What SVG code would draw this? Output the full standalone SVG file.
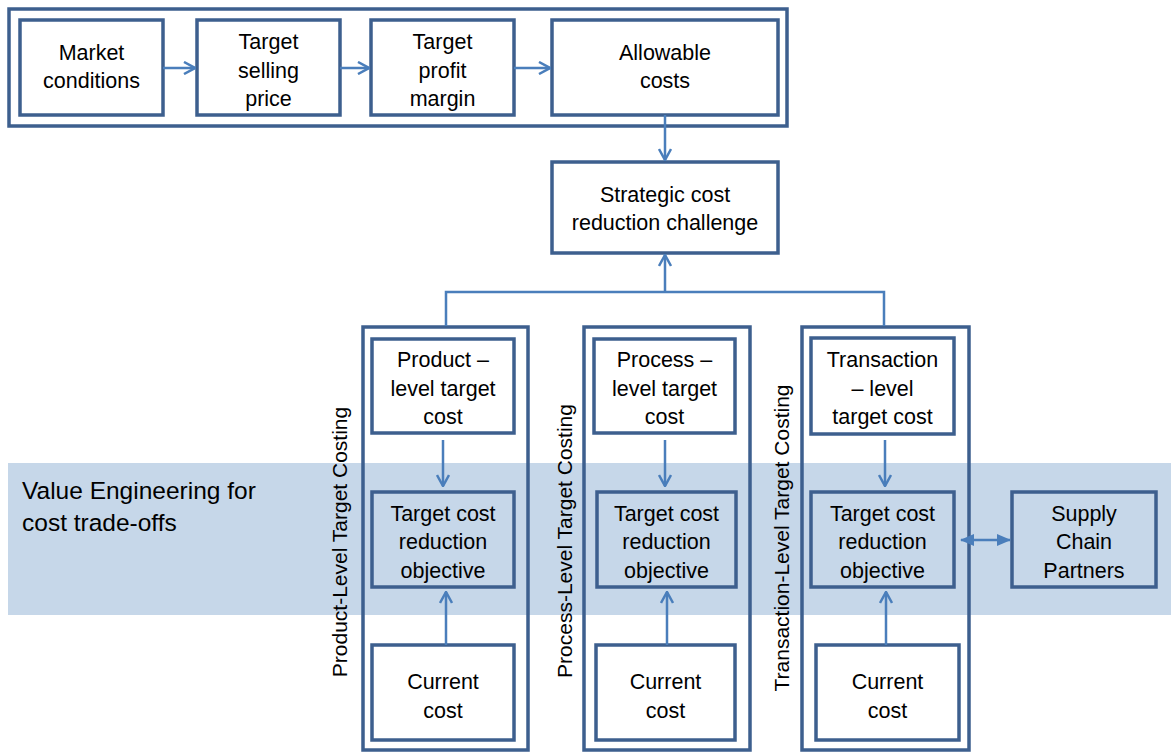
<svg xmlns="http://www.w3.org/2000/svg" width="1171" height="752" viewBox="0 0 1171 752">
  <style>
    .box { fill: #ffffff; stroke: #3d5f8e; stroke-width: 3.5; }
    .clear { fill: none; stroke: #3d5f8e; stroke-width: 3.5; }
    .frame { fill: none; stroke: #3d5f8e; stroke-width: 3.5; }
    .lbl { font-family: "Liberation Sans", Arial, sans-serif; font-size: 21.5px; fill: #000; text-anchor: middle; }
    .side { font-family: "Liberation Sans", Arial, sans-serif; font-size: 21px; fill: #000; text-anchor: middle; }
    .band-text { font-family: "Liberation Sans", Arial, sans-serif; font-size: 24.5px; fill: #000; }
    .link { fill: none; stroke: #4a7ebb; stroke-width: 2.5; }
  </style>
  <defs>
    <marker id="arrow" viewBox="0 0 14 14" refX="13" refY="7" markerWidth="14" markerHeight="14" markerUnits="userSpaceOnUse" orient="auto">
      <polyline points="2,1 13,7 2,13" fill="none" stroke="#4a7ebb" stroke-width="2.5"/>
    </marker>
    <marker id="tri" viewBox="0 0 14 14" refX="13" refY="7" markerWidth="14" markerHeight="14" markerUnits="userSpaceOnUse" orient="auto-start-reverse">
      <polygon points="0,1 14,7 0,13" fill="#4a7ebb"/>
    </marker>
  </defs>

  <rect width="1171" height="752" fill="#ffffff"/>

  <!-- value engineering band -->
  <g id="value-engineering">
    <rect x="8" y="463" width="1163" height="152" fill="#c6d7e9"/>
    <text class="band-text" x="22" y="499">Value Engineering for</text>
    <text class="band-text" x="22" y="531">cost trade-offs</text>
  </g>

  <!-- price chain frame -->
  <g id="pricing-frame">
    <rect class="frame" x="9" y="9" width="778" height="117"/>
  </g>
  <g id="market-conditions">
    <rect class="box" x="20" y="20" width="143" height="95"/>
    <text class="lbl" x="91.5" y="60">Market</text>
    <text class="lbl" x="91.5" y="88">conditions</text>
  </g>
  <g id="target-selling-price">
    <rect class="box" x="197" y="20" width="143" height="95"/>
    <text class="lbl" x="268.5" y="49">Target</text>
    <text class="lbl" x="268.5" y="78">selling</text>
    <text class="lbl" x="268.5" y="106">price</text>
  </g>
  <g id="target-profit-margin">
    <rect class="box" x="371" y="20" width="143" height="95"/>
    <text class="lbl" x="442.5" y="49">Target</text>
    <text class="lbl" x="442.5" y="78">profit</text>
    <text class="lbl" x="442.5" y="106">margin</text>
  </g>
  <g id="allowable-costs">
    <rect class="box" x="552" y="20" width="226" height="95"/>
    <text class="lbl" x="665" y="60">Allowable</text>
    <text class="lbl" x="665" y="88">costs</text>
  </g>
  <g id="strategic-challenge">
    <rect class="box" x="552" y="162" width="226" height="91"/>
    <text class="lbl" x="665" y="202">Strategic cost</text>
    <text class="lbl" x="665" y="230">reduction challenge</text>
  </g>

  <!-- costing columns -->
  <g id="product-level">
    <rect class="frame" x="363" y="327" width="165" height="423"/>
    <text class="side" transform="translate(347,542) rotate(-90)">Product-Level Target Costing</text>
  </g>
  <g id="product-target">
    <rect class="box" x="372" y="339" width="142" height="94"/>
    <text class="lbl" x="443" y="367">Product –</text>
    <text class="lbl" x="443" y="396">level target</text>
    <text class="lbl" x="443" y="424">cost</text>
  </g>
  <g id="product-objective">
    <rect class="clear" x="372" y="492" width="142" height="95"/>
    <text class="lbl" x="443" y="521">Target cost</text>
    <text class="lbl" x="443" y="549">reduction</text>
    <text class="lbl" x="443" y="578">objective</text>
  </g>
  <g id="product-current">
    <rect class="box" x="372" y="645" width="142" height="95"/>
    <text class="lbl" x="443" y="689">Current</text>
    <text class="lbl" x="443" y="718">cost</text>
  </g>

  <g id="process-level">
    <rect class="frame" x="584" y="327" width="166" height="423"/>
    <text class="side" transform="translate(572,541) rotate(-90)">Process-Level Target Costing</text>
  </g>
  <g id="process-target">
    <rect class="box" x="594" y="339" width="141" height="94"/>
    <text class="lbl" x="664.5" y="367">Process –</text>
    <text class="lbl" x="664.5" y="396">level target</text>
    <text class="lbl" x="664.5" y="424">cost</text>
  </g>
  <g id="process-objective">
    <rect class="clear" x="597" y="492" width="139" height="95"/>
    <text class="lbl" x="666.5" y="521">Target cost</text>
    <text class="lbl" x="666.5" y="549">reduction</text>
    <text class="lbl" x="666.5" y="578">objective</text>
  </g>
  <g id="process-current">
    <rect class="box" x="596" y="645" width="139" height="95"/>
    <text class="lbl" x="665.5" y="689">Current</text>
    <text class="lbl" x="665.5" y="718">cost</text>
  </g>

  <g id="transaction-level">
    <rect class="frame" x="802" y="327" width="167" height="423"/>
    <text class="side" transform="translate(789,538) rotate(-90)">Transaction-Level Target Costing</text>
  </g>
  <g id="transaction-target">
    <rect class="box" x="811" y="338" width="143" height="96"/>
    <text class="lbl" x="882.5" y="367">Transaction</text>
    <text class="lbl" x="882.5" y="396">– level</text>
    <text class="lbl" x="882.5" y="424">target cost</text>
  </g>
  <g id="transaction-objective">
    <rect class="clear" x="811" y="492" width="143" height="95"/>
    <text class="lbl" x="882.5" y="521">Target cost</text>
    <text class="lbl" x="882.5" y="549">reduction</text>
    <text class="lbl" x="882.5" y="578">objective</text>
  </g>
  <g id="transaction-current">
    <rect class="box" x="816" y="645" width="143" height="95"/>
    <text class="lbl" x="887.5" y="689">Current</text>
    <text class="lbl" x="887.5" y="718">cost</text>
  </g>

  <g id="supply-chain">
    <rect class="clear" x="1012" y="492" width="144" height="95"/>
    <text class="lbl" x="1084" y="521">Supply</text>
    <text class="lbl" x="1084" y="549">Chain</text>
    <text class="lbl" x="1084" y="578">Partners</text>
  </g>

  <!-- connectors -->
  <g id="connectors">
    <line class="link" x1="163" y1="68" x2="195" y2="68" marker-end="url(#arrow)"/>
    <line class="link" x1="340" y1="68" x2="369" y2="68" marker-end="url(#arrow)"/>
    <line class="link" x1="514" y1="68" x2="550" y2="68" marker-end="url(#arrow)"/>
    <line class="link" x1="665" y1="115" x2="665" y2="160" marker-end="url(#arrow)"/>
    <line class="link" x1="665" y1="292" x2="665" y2="255" marker-end="url(#arrow)"/>
    <polyline class="link" points="446,326 446,292 884,292 884,326"/>
    <line class="link" x1="443" y1="440" x2="443" y2="486" marker-end="url(#arrow)"/>
    <line class="link" x1="665" y1="440" x2="665" y2="486" marker-end="url(#arrow)"/>
    <line class="link" x1="885" y1="440" x2="885" y2="486" marker-end="url(#arrow)"/>
    <line class="link" x1="446" y1="645" x2="446" y2="592" marker-end="url(#arrow)"/>
    <line class="link" x1="667" y1="645" x2="667" y2="592" marker-end="url(#arrow)"/>
    <line class="link" x1="886" y1="645" x2="886" y2="592" marker-end="url(#arrow)"/>
    <line class="link" x1="961" y1="540" x2="1010" y2="540" marker-start="url(#tri)" marker-end="url(#tri)"/>
  </g>
</svg>
